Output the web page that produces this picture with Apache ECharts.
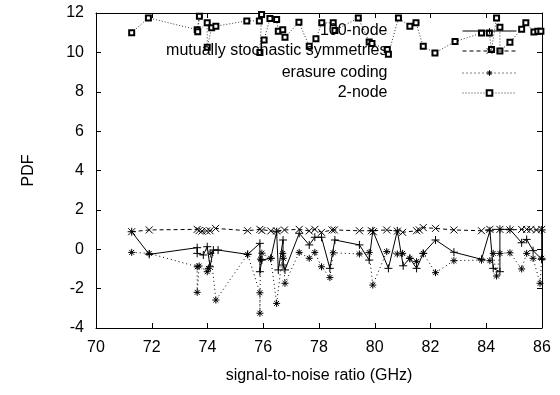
<!DOCTYPE html>
<html>
<head>
<meta charset="utf-8">
<script src="https://cdn.jsdelivr.net/npm/echarts@6/dist/echarts.min.js"></script>
<style>
  html, body { margin: 0; padding: 0; background: #fff; }
  #chart { width: 560px; height: 395px; }
</style>
</head>
<body>
<div id="chart"></div>
<script>
// tick labels
const xTicks = [70, 72, 74, 76, 78, 80, 82, 84, 86];
const yTicks = [-4, -2, 0, 2, 4, 6, 8, 10, 12];

// 100-node
const nodeX = [71.28, 71.91, 73.63, 73.63, 73.85, 73.99, 74.09, 74.21, 74.38, 75.44, 75.88, 75.88, 75.95, 76.27, 76.48, 76.54, 76.71, 76.71, 76.78, 77.29, 77.65, 77.85, 78.09, 78.39, 78.57, 79.45, 79.80, 79.93, 80.49, 80.81, 81.02, 81.26, 81.50, 81.74, 82.18, 82.84, 83.83, 84.13, 84.25, 84.49, 84.49, 84.85, 85.27, 85.45, 85.68, 85.99, 85.99];
const nodeY = [0.89, -0.26, 0.08, -0.21, -0.29, 0.13, -0.89, -0.04, -0.04, -0.26, 0.30, -1.14, -0.55, -0.46, 0.89, -1.05, 0.47, -0.80, -1.05, 0.81, 0.22, 0.61, 0.61, -0.97, 0.47, 0.22, -0.55, 0.94, -0.97, 0.94, -0.84, -0.46, -0.97, -0.21, 0.47, -0.15, -0.51, 0.94, -0.97, -1.14, 1.01, 1.01, 0.33, 0.50, -0.07, -0.51, 0.98];

// mutually stochastic symmetries
const symX = [71.28, 71.91, 73.63, 73.70, 73.80, 73.97, 74.09, 74.29, 75.44, 75.88, 75.95, 76.27, 76.48, 76.76, 77.29, 77.65, 77.85, 78.09, 78.47, 78.55, 79.45, 79.88, 79.95, 80.43, 80.81, 81.00, 81.50, 81.60, 81.74, 82.18, 82.84, 83.83, 84.13, 84.49, 84.85, 85.27, 85.45, 85.60, 85.80, 85.99];
const symY = [0.89, 0.98, 1.01, 0.95, 0.92, 0.93, 0.94, 1.06, 0.94, 1.01, 0.95, 0.93, 0.93, 0.98, 1.01, 0.93, 1.01, 0.86, 0.98, 0.98, 0.94, 0.94, 0.89, 0.98, 0.92, 0.86, 0.94, 0.98, 1.10, 1.06, 0.98, 0.94, 1.01, 1.01, 0.98, 1.01, 1.01, 1.01, 0.98, 1.01];

// erasure coding
const codeX = [71.28, 71.91, 73.63, 73.63, 73.70, 73.99, 74.03, 74.12, 74.30, 75.44, 75.88, 75.88, 75.90, 75.95, 76.27, 76.48, 76.70, 76.72, 76.78, 77.29, 77.65, 77.85, 78.09, 78.39, 78.51, 79.45, 79.80, 79.93, 80.43, 80.81, 81.00, 81.26, 81.50, 81.74, 82.18, 82.84, 83.83, 84.13, 84.25, 84.37, 84.49, 84.85, 85.27, 85.45, 85.68, 85.93, 85.99];
const codeY = [-0.16, -0.21, -0.89, -2.19, -0.85, -1.14, -0.97, -0.20, -2.58, -0.26, -2.21, -3.25, -0.50, -0.20, -0.46, -2.75, -0.21, -0.46, -1.73, -0.16, -0.46, -0.16, -0.89, -1.44, -0.18, -0.24, -0.16, -1.82, -0.12, -0.24, -0.21, -0.46, -0.63, -0.21, -1.19, -0.58, -0.55, -0.58, -0.21, -1.36, -0.21, -0.18, -1.00, -0.21, -0.46, -1.73, -0.46];

// 2-node
const twoX = [71.28, 71.88, 73.63, 73.71, 73.65, 73.99, 73.99, 74.15, 74.30, 75.41, 75.86, 75.94, 75.88, 76.03, 76.24, 76.48, 76.54, 76.70, 76.78, 77.28, 77.65, 77.89, 78.10, 78.51, 78.57, 79.41, 79.80, 79.90, 80.45, 80.49, 80.85, 81.26, 81.48, 81.74, 82.16, 82.88, 83.83, 84.11, 84.19, 84.37, 84.49, 84.49, 84.85, 85.27, 85.42, 85.71, 85.85, 85.96];
const twoY = [11.0, 11.75, 11.15, 11.83, 11.05, 11.5, 10.26, 11.25, 11.33, 11.6, 11.6, 11.92, 10.0, 10.63, 11.72, 11.67, 11.07, 11.15, 10.77, 11.53, 10.31, 10.69, 11.5, 11.5, 11.11, 11.75, 10.53, 10.45, 10.15, 9.90, 11.75, 11.33, 11.5, 10.31, 9.97, 10.55, 10.98, 10.98, 10.15, 11.75, 11.27, 10.07, 10.52, 11.18, 11.5, 11.04, 11.07, 11.07];

const seriesNames = ["100-node", "mutually stochastic symmetries", "erasure coding", "2-node"];

const font = "Liberation Sans, Arial, sans-serif";
const plusPath = "path://M5,0V10M0,5H10";
const crossPath = "path://M0,0L10,10M10,0L0,10";
const starPath = "path://M5,0V10M0,5H10M1.5,1.5L8.5,8.5M8.5,1.5L1.5,8.5";

function zip(xs, ys) {
  return xs.map((x, i) => [x, ys[i]]);
}

const chartInstance = echarts.init(document.getElementById("chart"));

function makeLegend(name, top) {
  return {
    data: [name],
    right: 43,
    top: top,
    padding: 0,
    align: "right",
    itemWidth: 54,
    itemHeight: 7,
    selectedMode: false,
    lineStyle: { width: 1 },
    itemStyle: { borderWidth: 1 },
    textStyle: {
      color: "#000",
      fontSize: 16,
      fontFamily: font,
      padding: [0, 70, 0, 0],
    },
  };
}

function makeSeries(name, data, symbol, size, lineType, lineColor) {
  return {
    name: name,
    type: "line",
    data: data,
    symbol: symbol,
    symbolSize: size,
    showSymbol: true,
    animation: false,
    lineStyle: {
      color: lineColor,
      width: 1,
      type: lineType,
    },
    itemStyle: {
      color: "#000",
      borderColor: "#000",
      borderWidth: 1,
    },
  };
}

const axisCommon = {
  axisLine: { show: true, onZero: false, lineStyle: { color: "#000", width: 1 } },
  axisTick: { show: true, inside: true, length: 5, lineStyle: { color: "#000" } },
  splitLine: { show: false },
};

const initOption = {
  backgroundColor: "#fff",
  animation: false,
  grid: {
    left: 96,
    right: 18,
    top: 13,
    bottom: 67,
  },
  legend: [
    makeLegend(seriesNames[0], 23),
    makeLegend(seriesNames[1], 43),
    makeLegend(seriesNames[2], 65),
    makeLegend(seriesNames[3], 85),
  ],
  xAxis: [
    {
      type: "value",
      min: xTicks[0],
      max: xTicks[xTicks.length - 1],
      interval: 2,
      name: "signal-to-noise ratio (GHz)",
      nameLocation: "middle",
      nameGap: 40,
      nameTextStyle: { color: "#000", fontSize: 16, fontFamily: font },
      axisLabel: { color: "#000", fontSize: 16, fontFamily: font, margin: 12 },
      ...axisCommon,
    },
    {
      type: "value",
      position: "top",
      min: xTicks[0],
      max: xTicks[xTicks.length - 1],
      interval: 2,
      axisLabel: { show: false },
      ...axisCommon,
    },
  ],
  yAxis: [
    {
      type: "value",
      min: yTicks[0],
      max: yTicks[yTicks.length - 1],
      interval: 2,
      name: "PDF",
      nameLocation: "middle",
      nameGap: 59,
      nameTextStyle: { color: "#000", fontSize: 16, fontFamily: font },
      axisLabel: { color: "#000", fontSize: 16, fontFamily: font, margin: 12 },
      ...axisCommon,
    },
    {
      type: "value",
      position: "right",
      min: yTicks[0],
      max: yTicks[yTicks.length - 1],
      interval: 2,
      axisLabel: { show: false },
      ...axisCommon,
    },
  ],
  series: [
    makeSeries(seriesNames[0], zip(nodeX, nodeY), plusPath, 8, "solid", "#000"),
    makeSeries(seriesNames[1], zip(symX, symY), crossPath, 7, [4, 3], "#000"),
    makeSeries(seriesNames[2], zip(codeX, codeY), starPath, 7, [1, 3], "#000"),
    makeSeries(seriesNames[3], zip(twoX, twoY), "emptyRect", 5, [1, 2], "#333"),
  ],
};

chartInstance.setOption(initOption);
</script>
</body>
</html>
